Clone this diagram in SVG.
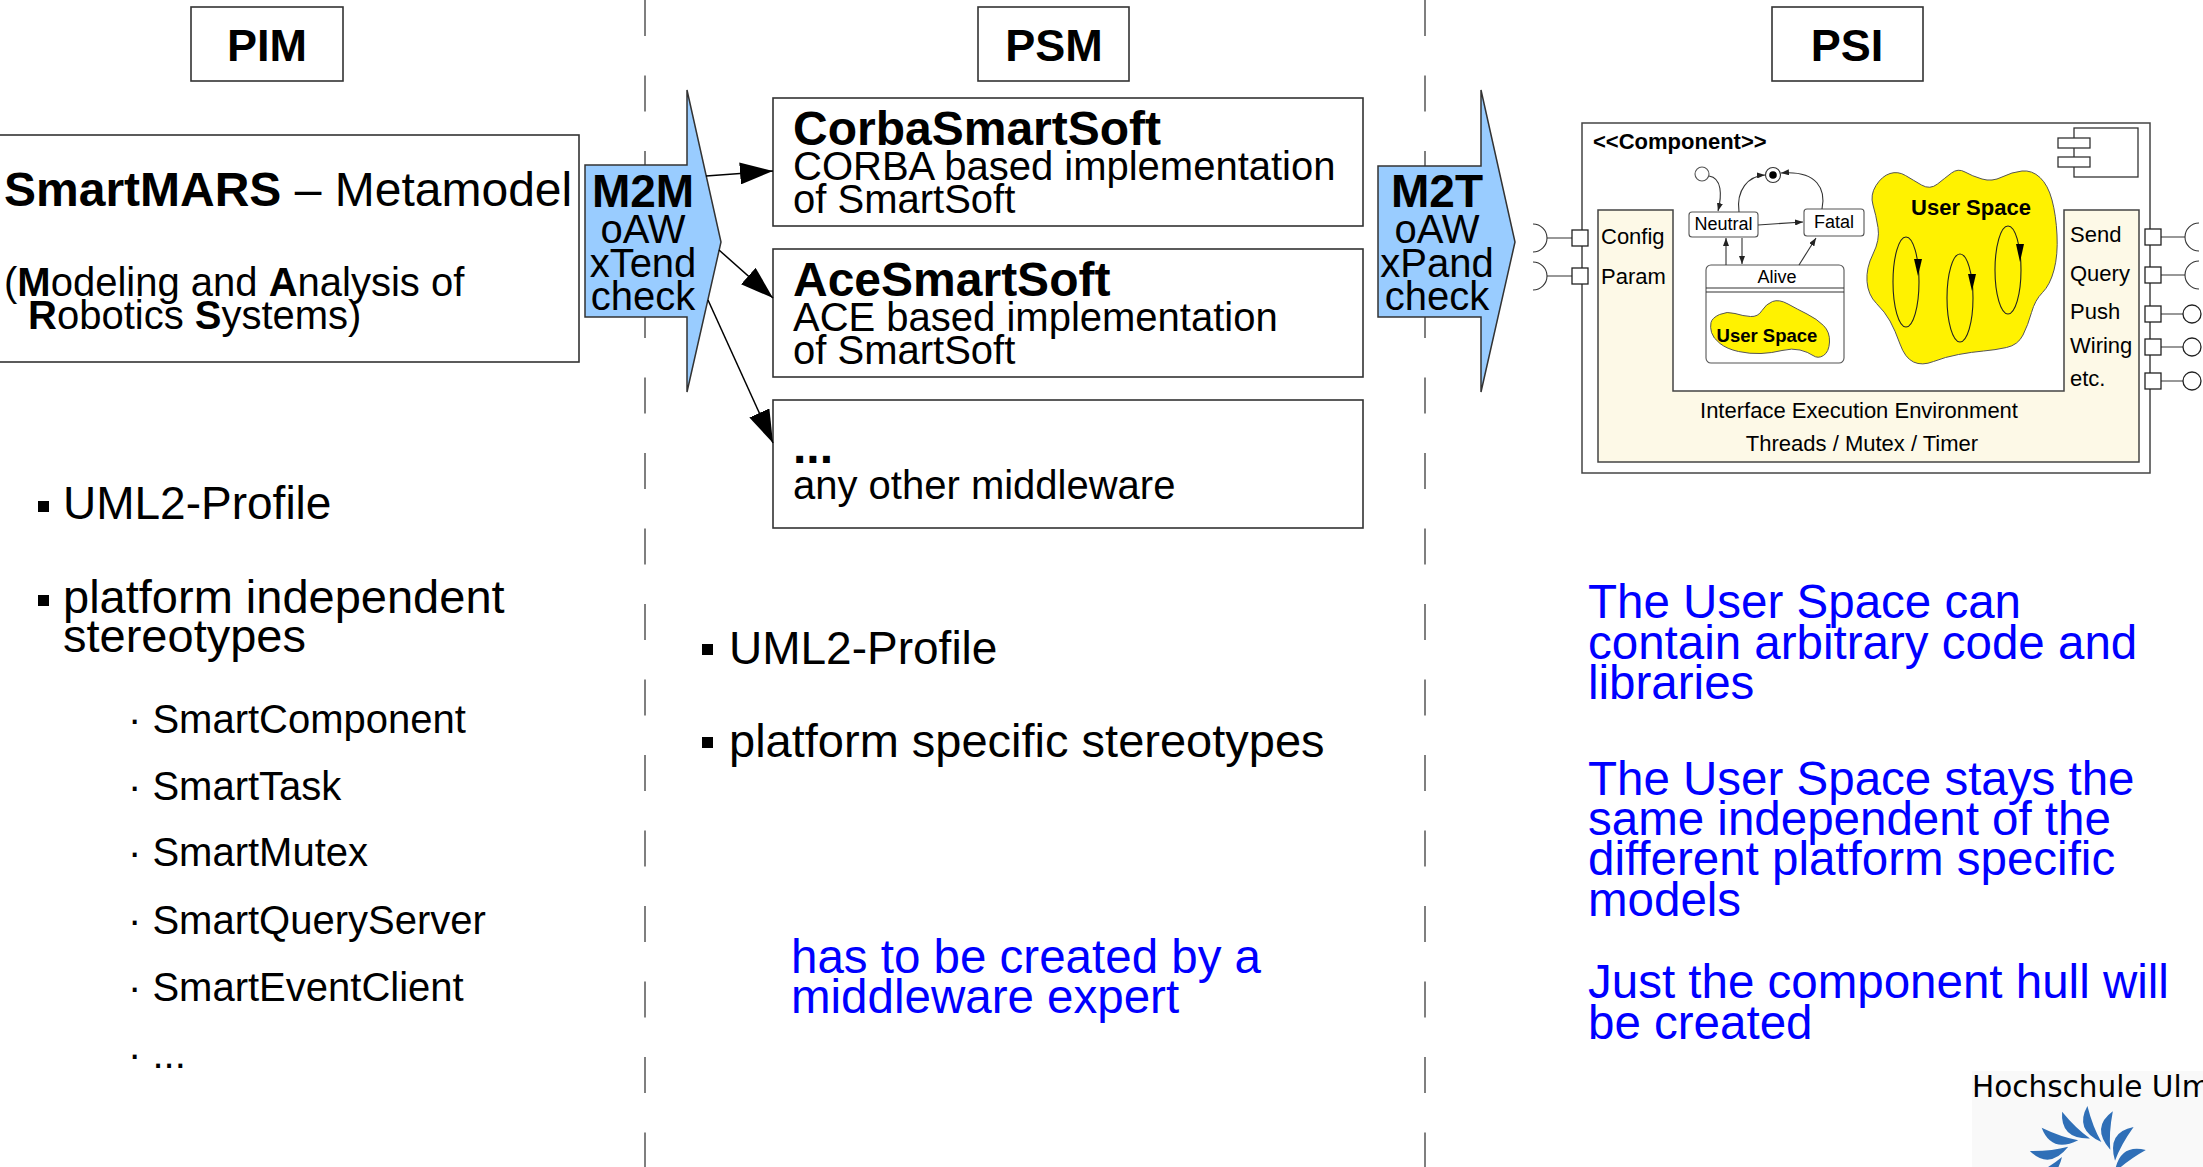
<svg xmlns="http://www.w3.org/2000/svg" width="2203" height="1167" viewBox="0 0 2203 1167">
  <style>
    text { font-family: "Liberation Sans", Arial, sans-serif; fill: #000; }
    .b { font-weight: bold; }
    .blue { fill: #0000ff; font-size: 47.5px; }
    .box { fill: #fff; stroke: #333; stroke-width: 1.6; }
    .sep { stroke: #555; stroke-width: 1.5; stroke-dasharray: 36 39.5; fill: none; }
    .xform { fill: #99ccff; stroke: #333; stroke-width: 1.5; }
    .edge { stroke: #000; stroke-width: 1.5; fill: none; }
    .sm { stroke: #333; stroke-width: 1.1; fill: none; }
    .port { fill: #fff; stroke: #222; stroke-width: 1.3; }
    .yellow { fill: #fff200; stroke: #555; stroke-width: 1; }
    .blade { fill: #2f6fb7; }
  </style>
  <defs>
    <marker id="bigHead" markerUnits="userSpaceOnUse" viewBox="0 0 33 22" refX="33" refY="11" markerWidth="33" markerHeight="22" orient="auto">
      <path d="M0,0 L33,11 L0,22 Z" fill="#000"/>
    </marker>
    <marker id="smallHead" markerUnits="userSpaceOnUse" viewBox="0 0 8 6" refX="8" refY="3" markerWidth="8" markerHeight="6" orient="auto">
      <path d="M0,0 L8,3 L0,6 Z" fill="#222"/>
    </marker>
    <!-- one curved blade of the logo swirl, pointing along +x -->
    <path id="bladeShape" d="M26,9 Q33,-20 59,-11 Q39,-2 26,9 Z"/>
  </defs>

  <!-- column separators -->
  <g id="separators">
    <line class="sep" x1="645" y1="0" x2="645" y2="1167"/>
    <line class="sep" x1="1425" y1="0" x2="1425" y2="1167"/>
  </g>

  <!-- column headings -->
  <g id="head-pim">
    <rect class="box" x="191" y="7" width="152" height="74"/>
    <text class="b" x="267" y="61" font-size="45" text-anchor="middle">PIM</text>
  </g>
  <g id="head-psm">
    <rect class="box" x="978" y="7" width="151" height="74"/>
    <text class="b" x="1054" y="61" font-size="45" text-anchor="middle">PSM</text>
  </g>
  <g id="head-psi">
    <rect class="box" x="1772" y="7" width="151" height="74"/>
    <text class="b" x="1847" y="61" font-size="45" text-anchor="middle">PSI</text>
  </g>

  <!-- PIM column -->
  <g id="metamodel">
    <rect class="box" x="-5" y="135" width="584" height="227"/>
    <text x="4" y="206" font-size="48"><tspan class="b">SmartMARS</tspan> – Metamodel</text>
    <text x="4" y="296" font-size="40">(<tspan class="b">M</tspan>odeling and <tspan class="b">A</tspan>nalysis of</text>
    <text x="28" y="329" font-size="40"><tspan class="b">R</tspan>obotics <tspan class="b">S</tspan>ystems)</text>
  </g>

  <g id="pim-list">
    <rect x="38" y="501" width="11" height="11" fill="#000"/>
    <text x="63" y="519" font-size="46">UML2-Profile</text>
    <rect x="38" y="595" width="11" height="11" fill="#000"/>
    <text x="63" y="613" font-size="47">platform independent</text>
    <text x="63" y="652" font-size="47">stereotypes</text>
    <text x="128" y="733" font-size="40">· SmartComponent</text>
    <text x="128" y="800" font-size="40">· SmartTask</text>
    <text x="128" y="866" font-size="40">· SmartMutex</text>
    <text x="128" y="934" font-size="40">· SmartQueryServer</text>
    <text x="128" y="1001" font-size="40">· SmartEventClient</text>
    <text x="128" y="1068" font-size="40">· ...</text>
  </g>

  <!-- transformation arrows -->
  <g id="m2m">
    <polygon class="xform" points="585,165 687,165 687,90 721,242 687,392 687,317 585,317"/>
    <text x="643" y="207" font-size="46" class="b" text-anchor="middle">M2M</text>
    <text x="643" y="243" font-size="40" text-anchor="middle">oAW</text>
    <text x="643" y="277" font-size="40" text-anchor="middle">xTend</text>
    <text x="643" y="310" font-size="40" text-anchor="middle">check</text>
  </g>
  <g id="m2t">
    <polygon class="xform" points="1378,166 1481,166 1481,90 1515,242 1481,392 1481,317 1378,317"/>
    <text x="1437" y="207" font-size="46" class="b" text-anchor="middle">M2T</text>
    <text x="1437" y="243" font-size="40" text-anchor="middle">oAW</text>
    <text x="1437" y="277" font-size="40" text-anchor="middle">xPand</text>
    <text x="1437" y="310" font-size="40" text-anchor="middle">check</text>
  </g>

  <!-- PSM column -->
  <g id="corba">
    <rect class="box" x="773" y="98" width="590" height="128"/>
    <text class="b" x="793" y="145" font-size="48">CorbaSmartSoft</text>
    <text x="793" y="180" font-size="40">CORBA based implementation</text>
    <text x="793" y="213" font-size="40">of SmartSoft</text>
  </g>
  <g id="ace">
    <rect class="box" x="773" y="249" width="590" height="128"/>
    <text class="b" x="793" y="296" font-size="48">AceSmartSoft</text>
    <text x="793" y="331" font-size="40">ACE based implementation</text>
    <text x="793" y="364" font-size="40">of SmartSoft</text>
  </g>
  <g id="other">
    <rect class="box" x="773" y="400" width="590" height="128"/>
    <text class="b" x="793" y="463" font-size="48">...</text>
    <text x="793" y="499" font-size="40">any other middleware</text>
  </g>

  <g id="connectors">
    <path class="edge" d="M706,176 L773,171" marker-end="url(#bigHead)"/>
    <path class="edge" d="M719,250 L773,298" marker-end="url(#bigHead)"/>
    <path class="edge" d="M708,300 L773,443" marker-end="url(#bigHead)"/>
  </g>

  <g id="psm-list">
    <rect x="702" y="644" width="11" height="11" fill="#000"/>
    <text x="729" y="664" font-size="46">UML2-Profile</text>
    <rect x="702" y="737" width="11" height="11" fill="#000"/>
    <text x="729" y="757" font-size="47">platform specific stereotypes</text>
    <text class="blue" x="791" y="973">has to be created by a</text>
    <text class="blue" x="791" y="1013">middleware expert</text>
  </g>

  <!-- PSI column: component hull -->
  <g id="component">
    <rect x="1582" y="123" width="568" height="350" fill="#fff" stroke="#444" stroke-width="1.5"/>
    <text class="b" x="1593" y="149" font-size="22">&lt;&lt;Component&gt;&gt;</text>
    <!-- component icon -->
    <rect x="2074" y="128" width="64" height="49" fill="#fff" stroke="#333" stroke-width="1.3"/>
    <rect x="2058" y="138" width="32" height="10" fill="#fff" stroke="#333" stroke-width="1.3"/>
    <rect x="2058" y="157" width="32" height="10" fill="#fff" stroke="#333" stroke-width="1.3"/>
    <!-- execution environment -->
    <polygon points="1598,210 1673,210 1673,391 2064,391 2064,210 2139,210 2139,462 1598,462" fill="#fdf9e7" stroke="#444" stroke-width="1.5"/>
    <text x="1601" y="244" font-size="22">Config</text>
    <text x="1601" y="284" font-size="22">Param</text>
    <text x="2070" y="242" font-size="22">Send</text>
    <text x="2070" y="281" font-size="22">Query</text>
    <text x="2070" y="319" font-size="22">Push</text>
    <text x="2070" y="353" font-size="22">Wiring</text>
    <text x="2070" y="386" font-size="22">etc.</text>
    <text x="1859" y="418" font-size="22" text-anchor="middle">Interface Execution Environment</text>
    <text x="1862" y="451" font-size="22" text-anchor="middle">Threads / Mutex / Timer</text>

    <!-- required interfaces, left -->
    <path class="sm" d="M1547,238 L1572,238 M1547,276 L1572,276"/>
    <path class="sm" d="M1533,224 A14,14 0 0,1 1533,252 M1533,262 A14,14 0 0,1 1533,290"/>
    <rect class="port" x="1572" y="230" width="16" height="16"/>
    <rect class="port" x="1572" y="268" width="16" height="16"/>

    <!-- ports, right -->
    <path class="sm" d="M2161,237 L2185,237 M2161,275 L2185,275 M2161,314 L2183,314 M2161,347 L2183,347 M2161,381 L2183,381"/>
    <path class="sm" d="M2199,223 A14,14 0 0,0 2199,251 M2199,261 A14,14 0 0,0 2199,289"/>
    <circle class="port" cx="2192" cy="314" r="9"/>
    <circle class="port" cx="2192" cy="347" r="9"/>
    <circle class="port" cx="2192" cy="381" r="9"/>
    <rect class="port" x="2145" y="229" width="16" height="16"/>
    <rect class="port" x="2145" y="267" width="16" height="16"/>
    <rect class="port" x="2145" y="306" width="16" height="16"/>
    <rect class="port" x="2145" y="339" width="16" height="16"/>
    <rect class="port" x="2145" y="373" width="16" height="16"/>

    <!-- lifecycle state machine -->
    <g id="lifecycle">
      <circle cx="1702" cy="174" r="7" fill="#fff" stroke="#555" stroke-width="1.1"/>
      <circle cx="1773" cy="175" r="7.5" fill="#fff" stroke="#333" stroke-width="1.1"/>
      <circle cx="1773" cy="175" r="3.8" fill="#000"/>
      <rect x="1689" y="212" width="69" height="25" rx="3" fill="#fff" stroke="#555" stroke-width="1.1"/>
      <text x="1723.5" y="230" font-size="18" text-anchor="middle">Neutral</text>
      <rect x="1804" y="209" width="60" height="27" rx="3" fill="#fff" stroke="#555" stroke-width="1.1"/>
      <text x="1834" y="228" font-size="18" text-anchor="middle">Fatal</text>
      <rect x="1706" y="265" width="138" height="98" rx="5" fill="#fff" stroke="#555" stroke-width="1.1"/>
      <text x="1777" y="283" font-size="18" text-anchor="middle">Alive</text>
      <path d="M1706,288 L1844,288 M1706,292 L1844,292" stroke="#333" stroke-width="1.1"/>
      <path class="yellow" d="M1719.5,314.5 Q1727,311 1735,313.5 Q1743,316 1750.5,316.5 Q1758,317 1762,310.5 Q1766,304 1772.5,301.5 Q1779,299 1788,304 Q1797,309 1807,314 Q1817,319 1823.5,325.5 Q1830,332 1829.5,342 Q1829,352 1823.5,355.5 Q1818,359 1813,355.5 Q1808,352 1800,350 Q1792,348 1782,350.5 Q1772,353 1761,353.5 Q1750,354 1738.5,351.5 Q1727,349 1720,343.5 Q1713,338 1711.5,332.5 Q1710,327 1711,322.5 Q1712,318 1719.5,314.5 Z"/>
      <text class="b" x="1767" y="342" font-size="18.5" text-anchor="middle">User Space</text>
      <path class="sm" d="M1709,176 C1722,178 1722,195 1718,211" marker-end="url(#smallHead)"/>
      <path class="sm" d="M1739,212 C1736,190 1748,176 1765,175" marker-end="url(#smallHead)"/>
      <path class="sm" d="M1822,209 C1826,190 1818,170 1781,173" marker-end="url(#smallHead)"/>
      <path class="sm" d="M1758,225 L1803,222" marker-end="url(#smallHead)"/>
      <path class="sm" d="M1726,265 L1726,238" marker-end="url(#smallHead)"/>
      <path class="sm" d="M1742,238 L1742,264" marker-end="url(#smallHead)"/>
      <path class="sm" d="M1799,265 L1816,238" marker-end="url(#smallHead)"/>
    </g>

    <!-- user space with threads -->
    <g id="user-space">
      <path class="yellow" d="M1876,185.5 Q1882,176 1890,173.5 Q1898,171 1905.5,175.5 Q1913,180 1921.5,185 Q1930,190 1937.5,184 Q1945,178 1951.5,173 Q1958,168 1965,172 Q1972,176 1982,179 Q1992,182 2002,177 Q2012,172 2022,171 Q2032,170 2040,177.5 Q2048,185 2052,200 Q2056,215 2057,235 Q2058,255 2054,270 Q2050,285 2042.5,292.5 Q2035,300 2031.5,312.5 Q2028,325 2023,335 Q2018,345 2006.5,347.5 Q1995,350 1983.5,351 Q1972,352 1958.5,354.5 Q1945,357 1933.5,361.5 Q1922,366 1913.5,362 Q1905,358 1900,344 Q1895,330 1890,321 Q1885,312 1876.5,303.5 Q1868,295 1867,281.5 Q1866,268 1873,254 Q1880,240 1878,227.5 Q1876,215 1873,205 Q1870,195 1876,185.5 Z"/>
      <text class="b" x="1971" y="215" font-size="22" text-anchor="middle">User Space</text>
      <ellipse cx="1906" cy="282" rx="13" ry="45" fill="none" stroke="#222" stroke-width="1.1"/>
      <polygon points="1914,259 1922,259 1918,276" fill="#000"/>
      <ellipse cx="1960" cy="298" rx="13" ry="44" fill="none" stroke="#222" stroke-width="1.1"/>
      <polygon points="1968,274 1976,274 1972,291" fill="#000"/>
      <ellipse cx="2008" cy="270" rx="13" ry="44" fill="none" stroke="#222" stroke-width="1.1"/>
      <polygon points="2016,244 2024,244 2020,262" fill="#000"/>
    </g>
  </g>

  <g id="psi-notes">
    <text class="blue" x="1588" y="618">The User Space can</text>
    <text class="blue" x="1588" y="659">contain arbitrary code and</text>
    <text class="blue" x="1588" y="699">libraries</text>
    <text class="blue" x="1588" y="795">The User Space stays the</text>
    <text class="blue" x="1588" y="835">same independent of the</text>
    <text class="blue" x="1588" y="875">different platform specific</text>
    <text class="blue" x="1588" y="916">models</text>
    <text class="blue" x="1588" y="998">Just the component hull will</text>
    <text class="blue" x="1588" y="1039">be created</text>
  </g>

  <!-- university logo -->
  <g id="logo">
    <rect x="1972" y="1071" width="240" height="100" fill="#f9f9f9"/>
    <text x="1972" y="1097" font-size="29.5" style="font-family: 'DejaVu Sans', 'Open Sans', sans-serif;">Hochschule Ulm</text>
    <g transform="translate(2088,1166)">
      <use href="#bladeShape" class="blade" transform="rotate(180)"/>
      <use href="#bladeShape" class="blade" transform="rotate(-155)"/>
      <use href="#bladeShape" class="blade" transform="rotate(-130)"/>
      <use href="#bladeShape" class="blade" transform="rotate(-105)"/>
      <use href="#bladeShape" class="blade" transform="rotate(-80)"/>
      <use href="#bladeShape" class="blade" transform="rotate(-55)"/>
      <use href="#bladeShape" class="blade" transform="rotate(-30)"/>
      <use href="#bladeShape" class="blade" transform="rotate(-5)"/>
    </g>
  </g>
</svg>
